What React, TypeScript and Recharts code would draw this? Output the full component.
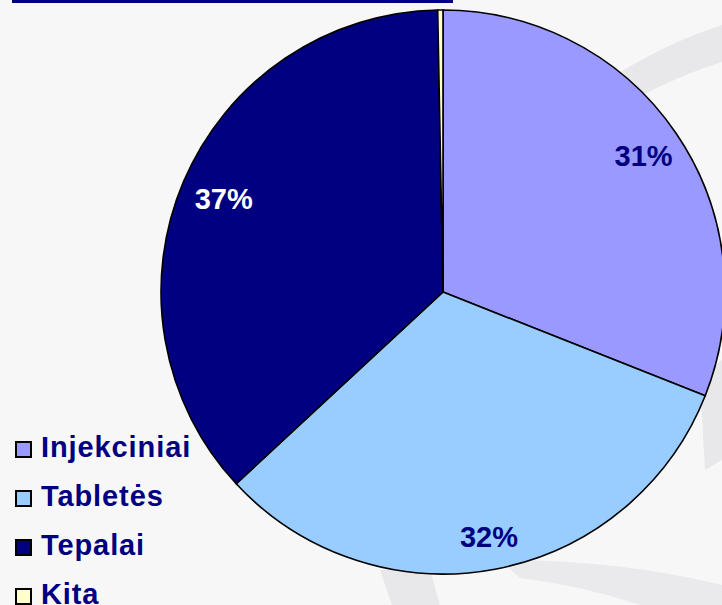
import React from "react";
import { PieChart, Pie, Cell } from "recharts";

const categories = ["Injekciniai", "Tabletės", "Tepalai", "Kita"];
const values = [31, 32.1, 36.6, 0.3];
const colors = ["#9999ff", "#99ccff", "#000080", "#ffffcc"];
const labelColors = ["#000080", "#000080", "#ffffff", "#000080"];
const showLabel = [true, true, true, false];
const labelRadius = [0.86, 0.885, 0.845, 0.85];

const data = categories.map((name, i) => ({ name, value: values[i] }));

const RADIAN = Math.PI / 180;

const renderLabel = (props: any) => {
  const { cx, cy, midAngle, outerRadius, percent, index } = props;
  if (!showLabel[index]) return null;
  const r = outerRadius * labelRadius[index];
  const x = cx + r * Math.cos(-midAngle * RADIAN);
  const y = cy + r * Math.sin(-midAngle * RADIAN);
  return (
    <text
      x={x}
      y={y}
      fill={labelColors[index]}
      textAnchor="middle"
      dominantBaseline="central"
      fontFamily="'Liberation Sans', Arial, sans-serif"
      fontWeight="bold"
      fontSize={29}
    >
      {`${Math.round(percent * 100)}%`}
    </text>
  );
};

function LegendBox() {
  return (
    <div style={{ position: "absolute", left: 15, top: 423 }}>
      {categories.map((name, i) => (
        <div
          key={name}
          style={{
            display: "flex",
            alignItems: "center",
            height: 49,
            fontFamily: "'Liberation Sans', Arial, sans-serif",
            fontWeight: "bold",
            fontSize: 29,
            letterSpacing: 0.9,
            color: "#000080",
            whiteSpace: "nowrap",
          }}
        >
          <span
            style={{
              display: "inline-block",
              width: 13,
              height: 13,
              background: colors[i],
              border: "2px solid #000",
              marginRight: 9,
              marginTop: 4,
            }}
          />
          <span>{name}</span>
        </div>
      ))}
    </div>
  );
}

export default function App() {
  return (
    <div
      style={{
        position: "absolute",
        left: 0,
        top: 0,
        width: 722,
        height: 605,
        background: "#f7f7f7",
        overflow: "hidden",
      }}
    >
      <svg
        width={722}
        height={605}
        style={{ position: "absolute", left: 0, top: 0 }}
      >
        <path d="M600 85 Q660 45 722 25 L722 62 Q670 78 612 112 Z" fill="#e8e8eb" />
        <path d="M700 380 L722 360 L722 460 L705 470 Z" fill="#e8e8eb" />
        <path d="M380 570 L430 570 L440 605 L392 605 Z" fill="#e8e8eb" />
        <path d="M500 560 Q620 560 722 585 L722 605 L640 605 Q580 585 520 578 Z" fill="#eaeaed" />
      </svg>
      <div
        style={{
          position: "absolute",
          left: 12,
          top: 0,
          width: 441,
          height: 3,
          background: "#000080",
        }}
      />
      <div style={{ position: "absolute", left: 0, top: 0 }}>
        <PieChart width={722} height={605} margin={{ top: 0, right: 0, bottom: 0, left: 0 }}>
          <Pie
            data={data}
            dataKey="value"
            nameKey="name"
            cx={443}
            cy={292}
            outerRadius={282}
            startAngle={90}
            endAngle={-270}
            stroke="#000"
            strokeWidth={1.6}
            label={renderLabel}
            labelLine={false}
            isAnimationActive={false}
          >
            {data.map((d, i) => (
              <Cell key={d.name} fill={colors[i]} />
            ))}
          </Pie>
        </PieChart>
      </div>
      <LegendBox />
    </div>
  );
}
